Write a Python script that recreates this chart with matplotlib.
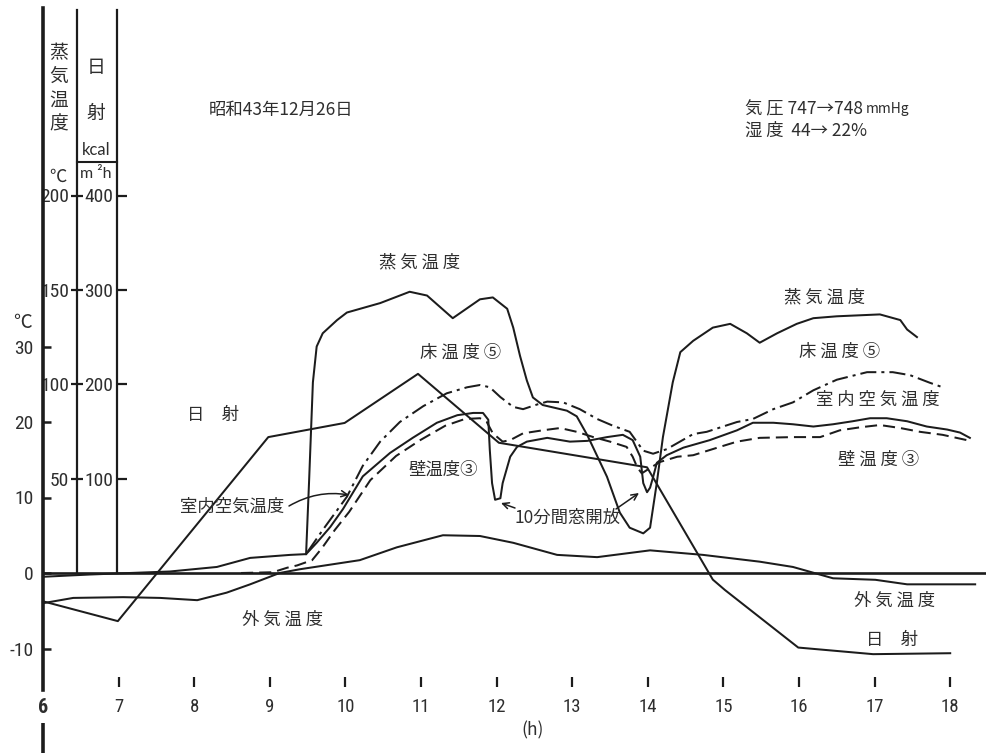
import matplotlib
matplotlib.use("Agg")
import matplotlib.pyplot as plt
from matplotlib import font_manager as fm

# ---------------- data ----------------
hour_ticks = list(range(6, 19))
temp_ticks = [-10, 0, 10, 20, 30]
steam_ticks = [50, 100, 150, 200]
solar_ticks = [100, 200, 300, 400]

# outdoor air temperature (degC)
outdoor_h = [6.0, 6.40, 7.06, 7.55, 8.04, 8.43, 8.74, 9.13, 9.40, 10.19, 10.68, 11.29,
             11.78, 12.22, 12.80, 13.33, 14.03, 14.73, 15.48, 15.92, 16.45, 17.01, 17.43, 18.33]
outdoor_t = [-4.0, -3.3, -3.2, -3.3, -3.6, -2.6, -1.5, 0.0, 0.5, 1.7, 3.4, 5.0,
             4.9, 4.0, 2.4, 2.1, 3.0, 2.4, 1.5, 0.8, -0.7, -0.9, -1.5, -1.5]

# room air temperature (degC)
room_h = [6.0, 6.62, 7.68, 8.30, 8.74, 9.27, 9.48, 9.62, 9.80, 9.97, 10.23, 10.59, 10.89,
          11.21, 11.48, 11.69, 11.82, 11.89, 11.91, 11.94, 11.98, 12.05, 12.08, 12.18, 12.27,
          12.40, 12.67, 12.97, 13.20, 13.46, 13.67, 13.80, 13.90, 13.94, 13.99, 14.03, 14.07,
          14.12, 14.25, 14.47, 14.82, 15.18, 15.39, 15.66, 15.92, 16.19, 16.45, 16.71, 16.94,
          17.16, 17.43, 17.69, 17.96, 18.13, 18.26]
room_t = [-0.5, -0.2, 0.2, 0.8, 2.0, 2.4, 2.5, 4.0, 6.1, 8.5, 12.8, 15.9, 17.9,
          19.9, 20.9, 21.2, 21.2, 20.3, 16.3, 11.9, 9.7, 9.9, 11.9, 15.4, 16.7,
          17.4, 17.9, 17.4, 17.5, 18.0, 18.3, 17.6, 15.4, 11.9, 10.7, 11.3, 12.7,
          14.6, 15.6, 16.6, 17.6, 18.9, 19.9, 19.9, 19.7, 19.4, 19.7, 20.1, 20.5,
          20.5, 20.1, 19.4, 19.0, 18.6, 17.9]

# wall temperature (3) (degC)
wall_h = [8.62, 9.04, 9.23, 9.36, 9.56, 9.69, 9.86, 10.05, 10.33, 10.67, 10.99, 11.32, 11.58,
          11.78, 11.87, 11.95, 12.08, 12.18, 12.35, 12.61, 12.84, 13.06, 13.28, 13.50, 13.72,
          13.80, 13.86, 13.92, 14.03, 14.16, 14.39, 14.60, 14.92, 15.18, 15.48, 15.92, 16.28,
          16.54, 16.81, 17.07, 17.34, 17.60, 17.90, 18.22]
wall_t = [0.0, 0.1, 0.7, 1.0, 1.7, 3.3, 5.7, 8.1, 12.3, 15.5, 17.6, 19.5, 20.4,
          20.5, 20.0, 18.5, 17.4, 17.6, 18.5, 18.9, 19.2, 18.7, 18.0, 17.4, 16.7,
          15.4, 14.0, 13.2, 13.9, 14.7, 15.4, 15.6, 16.6, 17.4, 17.9, 18.0, 18.0,
          18.9, 19.3, 19.6, 19.2, 18.7, 18.3, 17.6]

# floor temperature (5) (degC)
floor_h = [9.50, 9.70, 10.02, 10.23, 10.46, 10.72, 11.03, 11.34, 11.61, 11.78, 11.91, 12.05,
           12.22, 12.35, 12.53, 12.67, 12.88, 13.10, 13.33, 13.54, 13.76, 13.94, 14.07, 14.25,
           14.60, 14.78, 15.18, 15.39, 15.66, 15.92, 16.19, 16.50, 16.90, 17.24, 17.47, 17.73,
           17.90]
floor_t = [2.8, 5.7, 10.1, 14.2, 17.4, 20.0, 22.1, 23.8, 24.6, 24.9, 24.6, 23.3,
           22.0, 21.7, 22.3, 22.7, 22.6, 21.7, 20.4, 19.5, 18.7, 16.2, 15.8, 16.4,
           18.4, 18.7, 20.0, 20.4, 21.7, 22.6, 24.2, 25.6, 26.6, 26.6, 26.2, 25.2,
           24.6]

# steam temperature (degC, steam scale)
steam_h = [9.48, 9.52, 9.57, 9.62, 9.70, 9.89, 10.02, 10.46, 10.85, 11.08, 11.42, 11.78,
           11.95, 12.14, 12.22, 12.31, 12.40, 12.48, 12.61, 12.93, 13.06, 13.20, 13.33, 13.46,
           13.63, 13.76, 13.94, 14.03, 14.12, 14.20, 14.33, 14.43, 14.60, 14.86, 15.09, 15.31,
           15.48, 15.71, 15.97, 16.19, 16.50, 17.07, 17.34, 17.43, 17.56]
steam_v = [10, 49, 101, 120, 127, 134, 138, 143, 149, 147, 135, 145,
           146, 140, 130, 115, 102, 93, 89, 86, 83, 73, 62, 51,
           32, 24, 21, 24, 48, 72, 101, 117, 123, 130, 132, 127,
           122, 127, 132, 135, 136, 137, 134, 129, 125]

# solar radiation (kcal/m2h)
solar_h = [6.0, 6.99, 8.98, 9.99, 10.96, 12.03, 13.99, 14.86, 15.02, 15.99, 16.98, 18.0]
solar_v = [-30, -51, 144, 159, 211, 138, 112, -7, -18, -79, -86, -85]

STEAM_K = 4.0   # steam scale = 4 x left scale
SOLAR_K = 8.0   # solar scale = 8 x left scale

# ---------------- fonts ----------------
def has_font(name):
    try:
        fm.findfont(fm.FontProperties(family=name), fallback_to_default=False)
        return True
    except Exception:
        return False

NUM_FONT, NUM_SIZE, X_SIZE = "Roboto", 12.5, 12.5
for cand in ("Liberation Sans Narrow", "Roboto Condensed", "DejaVu Sans Condensed"):
    if has_font(cand):
        NUM_FONT, NUM_SIZE, X_SIZE = cand, 14, 13.5
        break
if not has_font(NUM_FONT):
    NUM_FONT, NUM_SIZE, X_SIZE = "DejaVu Sans", 11.5, 11.5

JP = ["Noto Sans CJK JP", "DejaVu Sans"]
plt.rcParams["font.family"] = [NUM_FONT, "DejaVu Sans"]
plt.rcParams["axes.unicode_minus"] = False

INK = "#1c1c1c"
TXT = "#2e2e2e"

# ---------------- layout ----------------
W, H = 987, 753
fig = plt.figure(figsize=(W / 100, H / 100), dpi=100)
ax = fig.add_axes([0, 0, 1, 1])
ax.set_facecolor("white")

X0PX, XSCALE = 43.0, 75.6
Y0PX, YSCALE = 573.0, 7.55


def px2x(px):
    return 6 + (px - X0PX) / XSCALE


def px2y(py):
    return (Y0PX - py) / YSCALE


ax.set_xlim(px2x(0), px2x(W))
ax.set_ylim(px2y(H), px2y(0))

for s in ("top", "right", "bottom"):
    ax.spines[s].set_visible(False)
ax.spines["left"].set_position(("data", 6))
ax.spines["left"].set_bounds(px2y(690), px2y(8))
ax.spines["left"].set_linewidth(2.6)
ax.spines["left"].set_color(INK)
ax.plot([6, 6], [px2y(723), px2y(H)], color=INK, lw=2.6, solid_capstyle="butt")

ax.set_xticks([])
ax.set_yticks(temp_ticks)
ax.set_yticklabels([str(t) for t in temp_ticks])
ax.tick_params(axis="y", direction="in", length=6, width=1.8, pad=7,
               labelsize=NUM_SIZE, colors=INK, labelcolor=TXT)

# steam axis
sec_s = ax.secondary_yaxis(77 / W, functions=(lambda y: y * STEAM_K, lambda y: y / STEAM_K))
sec_s.set_yticks(steam_ticks)
sec_s.set_yticklabels([str(t) for t in steam_ticks])
sec_s.tick_params(axis="y", direction="inout", length=9, width=1.6, pad=1,
                  labelsize=NUM_SIZE, colors=INK, labelcolor=TXT)
sec_s.spines["left"].set_bounds(0, px2y(10) * STEAM_K)
sec_s.spines["left"].set_linewidth(1.6)
sec_s.spines["left"].set_color(INK)

# solar axis
sec_r = ax.secondary_yaxis(117 / W, functions=(lambda y: y * SOLAR_K, lambda y: y / SOLAR_K))
sec_r.set_yticks(solar_ticks)
sec_r.set_yticklabels([str(t) for t in solar_ticks])
sec_r.tick_params(axis="y", direction="in", length=7, width=1.6, pad=3,
                  labelsize=NUM_SIZE, colors=INK, labelcolor=TXT)
sec_r.spines["left"].set_bounds(0, px2y(10) * SOLAR_K)
sec_r.spines["left"].set_linewidth(1.6)
sec_r.spines["left"].set_color(INK)

# hour axis (tick marks floating below the plot)
sec_x = ax.secondary_xaxis((H - 682) / H)
sec_x.set_xticks(hour_ticks)
sec_x.set_xticklabels([str(h) for h in hour_ticks])
sec_x.tick_params(axis="x", direction="inout", length=7, width=1.6, pad=8,
                  labelsize=X_SIZE, colors=INK, labelcolor=TXT)
for s in sec_x.spines.values():
    s.set_visible(False)
first = sec_x.xaxis.get_major_ticks()[0]
first.tick1line.set_visible(False)
first.label1.set_fontweight("bold")
first.label1.set_fontsize(X_SIZE + 1)

# zero line
ax.axhline(0, xmin=X0PX / W, xmax=1, color=INK, lw=1.9, zorder=2)

# header decorations
ax.plot([px2x(77), px2x(117)], [px2y(162), px2y(162)], color=INK, lw=1.5)
for i, ch in enumerate("蒸気温度"):
    ax.text(px2x(59), px2y(53 + i * 23.5), ch, ha="center", va="center",
            fontsize=13.5, family=JP, color=TXT)
ax.text(px2x(96), px2y(67), "日", ha="center", va="center", fontsize=13.5, family=JP, color=TXT)
ax.text(px2x(96), px2y(113), "射", ha="center", va="center", fontsize=13.5, family=JP, color=TXT)
ax.text(px2x(96), px2y(150), "kcal", ha="center", va="center", fontsize=12,
        family=["Lato", "DejaVu Sans"], color=TXT)
ax.text(px2x(96), px2y(174), "m ²h", ha="center", va="center", fontsize=11.5,
        family=["Lato", "DejaVu Sans"], color=TXT)
ax.text(px2x(58), px2y(177), "℃", ha="center", va="center", fontsize=12.5,
        family=JP, color=TXT)
ax.text(px2x(22), px2y(322), "℃", ha="center", va="center", fontsize=13.5,
        family=JP, color=TXT)
ax.text(px2x(533), px2y(730), "(h)", ha="center", va="center", fontsize=12.5,
        family=JP, color=TXT)

# ---------------- curves ----------------
lw = 1.45
ax.plot(outdoor_h, outdoor_t, color=INK, lw=lw, zorder=3)
ax.plot(room_h, room_t, color=INK, lw=lw, zorder=3)
ax.plot(wall_h, wall_t, color=INK, lw=lw, dashes=(6, 3), zorder=3)
ax.plot(floor_h, floor_t, color=INK, lw=lw, dashes=(8, 2.5, 1.5, 2.5), zorder=3)
ax.plot(steam_h, [v / STEAM_K for v in steam_v], color=INK, lw=lw, zorder=3)
ax.plot(solar_h, [v / SOLAR_K for v in solar_v], color=INK, lw=lw, zorder=3)

# ---------------- annotations ----------------
def jp(px, py, s, size=12.5, ha="center"):
    ax.text(px2x(px), px2y(py), s, ha=ha, va="center", fontsize=size, family=JP, color=TXT)


jp(281, 110, "昭和43年12月26日", 12.5)
t1 = ax.text(px2x(745), px2y(109), "気 圧 747→748", ha="left", va="center",
             fontsize=12.5, family=JP, color=TXT)
ax.annotate("mmHg", xy=(1, 0.1), xycoords=t1, xytext=(2, 0), textcoords="offset points",
            ha="left", va="bottom", fontsize=10, family=JP, color=TXT)
jp(745, 131, "湿 度  44→ 22%", 12.5, ha="left")

jp(420, 262, "蒸 気 温 度")
jp(461, 353, "床 温 度 ⑤")
jp(443, 470, "壁温度③")
jp(568, 518, "10分間窓開放")
jp(213, 415, "日　射")
jp(232, 507, "室内空気温度")
jp(283, 620, "外 気 温 度")
jp(825, 297, "蒸 気 温 度")
jp(840, 352, "床 温 度 ⑤")
jp(878, 400, "室 内 空 気 温 度")
jp(879, 460, "壁 温 度 ③")
jp(895, 601, "外 気 温 度")
jp(892, 640, "日　射")

arrow = dict(arrowstyle="->,head_length=0.45,head_width=0.22", color=INK, lw=1.1,
             shrinkA=0, shrinkB=0)
ax.annotate("", xy=(px2x(349), px2y(495)), xytext=(px2x(289), px2y(506)),
            arrowprops=dict(arrow, connectionstyle="arc3,rad=-0.18"))
ax.annotate("", xy=(px2x(501), px2y(503)), xytext=(px2x(515), px2y(508)),
            arrowprops=arrow)
ax.annotate("", xy=(px2x(639), px2y(493)), xytext=(px2x(616), px2y(509)),
            arrowprops=arrow)

fig.savefig("out.png", dpi=100, facecolor="white")
